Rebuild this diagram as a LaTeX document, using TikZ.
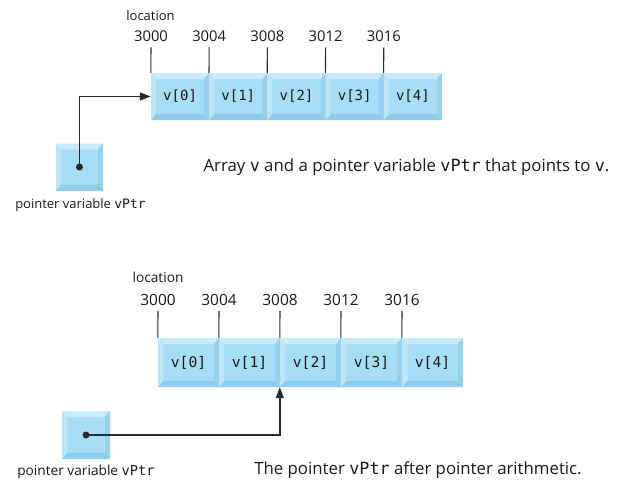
\documentclass[tikz,border=0pt]{standalone}
\usepackage{fontspec}
\setmainfont{Open Sans}
\setmonofont{DejaVu Sans Mono}
\usetikzlibrary{arrows.meta}
\definecolor{cface}{HTML}{A8DEF5}
\definecolor{ctop}{HTML}{C9ECFA}
\definecolor{cleft}{HTML}{BCE6F8}
\definecolor{cbot}{HTML}{8DCDEA}
\definecolor{cright}{HTML}{96D2ED}
\definecolor{cline}{HTML}{2A2A2A}
\newcommand{\fs}[1]{\fontsize{#1}{#1}\selectfont}
\tikzset{
  bev/.style={fill=cface, draw=none, inner sep=0pt, path picture={
    \coordinate (ppSW) at (path picture bounding box.south west);
    \coordinate (ppNE) at (path picture bounding box.north east);
    \coordinate (ppNW) at (path picture bounding box.north west);
    \coordinate (ppSE) at (path picture bounding box.south east);
    \fill[ctop] (ppNW) -- (ppNE) -- ([xshift=-5pt,yshift=-6pt]ppNE) -- ([xshift=5pt,yshift=-6pt]ppNW) -- cycle;
    \fill[cbot] (ppSW) -- (ppSE) -- ([xshift=-5pt,yshift=6pt]ppSE) -- ([xshift=5pt,yshift=6pt]ppSW) -- cycle;
    \fill[cleft] (ppNW) -- ([xshift=5pt,yshift=-6pt]ppNW) -- ([xshift=5pt,yshift=6pt]ppSW) -- (ppSW) -- cycle;
    \fill[cright] (ppNE) -- ([xshift=-5pt,yshift=-6pt]ppNE) -- ([xshift=-5pt,yshift=6pt]ppSE) -- (ppSE) -- cycle;
  }},
  celltop/.style={bev, minimum width=58.2pt, minimum height=47pt, font=\ttfamily\fs{14}, text=black!90},
  cellbot/.style={bev, minimum width=61pt, minimum height=49pt, font=\ttfamily\fs{14.7}, text=black!90},
  numtop/.style={inner sep=0pt, font=\fs{14.8}, text=black!90},
  numbot/.style={inner sep=0pt, font=\fs{15.4}, text=black!90},
  lbl/.style={inner sep=0pt, font=\fs{13}, text=black!90},
  lblb/.style={inner sep=0pt, font=\fs{13.7}, text=black!90},
  captxt/.style={inner sep=0pt, font=\fs{16.8}, text=black!90},
  tickln/.style={draw=cline, line width=1.1pt},
  conn/.style={draw=cline, line width=1.4pt},
  tiparr/.style={-{Triangle[length=11pt,width=8pt]}},
  dotst/.style={circle, fill=cline, inner sep=0pt, minimum size=7pt},
}
\begin{document}
\begin{tikzpicture}[x=1pt,y=-1pt]
\useasboundingbox (0,0) rectangle (617,482);
% ---------- top panel ----------
\node[celltop] (a0) at (180.1,96.5) {v[0]};
\node[celltop] (a1) at (238.3,96.5) {v[1]};
\node[celltop] (a2) at (296.5,96.5) {v[2]};
\node[celltop] (a3) at (354.7,96.5) {v[3]};
\node[celltop] (a4) at (412.9,96.5) {v[4]};
\node[lbl] (loc1) at (150.5,16) {location};
\node[numtop] (n0) at (151,36.7) {3000};
\node[numtop] (n1) at (209.2,36.7) {3004};
\node[numtop] (n2) at (267.4,36.7) {3008};
\node[numtop] (n3) at (325.6,36.7) {3012};
\node[numtop] (n4) at (383.8,36.7) {3016};
\draw[tickln] (a0.north west) -- ([yshift=-5pt]n0.south);
\draw[tickln] (a1.north west) -- ([yshift=-5pt]n1.south);
\draw[tickln] (a2.north west) -- ([yshift=-5pt]n2.south);
\draw[tickln] (a3.north west) -- ([yshift=-5pt]n3.south);
\draw[tickln] (a4.north west) -- ([yshift=-5pt]n4.south);
\node[bev, minimum size=47pt] (p1) at (79.5,167) {};
\node[dotst] (d1) at (p1.center) {};
\draw[conn,tiparr] (d1.center) |- (a0.west);
\node[lbl] (pl1) at (80.5,205) {pointer variable \texttt{vPtr}};
\node[captxt] (c1) at (406.5,167) {Array \texttt{v} and a pointer variable \texttt{vPtr} that points to \texttt{v}.};
% ---------- bottom panel ----------
\node[cellbot] (b0) at (188.5,362.5) {v[0]};
\node[cellbot] (b1) at (249.5,362.5) {v[1]};
\node[cellbot] (b2) at (310.5,362.5) {v[2]};
\node[cellbot] (b3) at (371.5,362.5) {v[3]};
\node[cellbot] (b4) at (432.5,362.5) {v[4]};
\node[lblb] (loc2) at (158,277) {location};
\node[numbot] (m0) at (158,300) {3000};
\node[numbot] (m1) at (219,300) {3004};
\node[numbot] (m2) at (280,300) {3008};
\node[numbot] (m3) at (341,300) {3012};
\node[numbot] (m4) at (402,300) {3016};
\draw[tickln] (b0.north west) -- ([yshift=-5pt]m0.south);
\draw[tickln] (b1.north west) -- ([yshift=-5pt]m1.south);
\draw[tickln] (b2.north west) -- ([yshift=-5pt]m2.south);
\draw[tickln] (b3.north west) -- ([yshift=-5pt]m3.south);
\draw[tickln] (b4.north west) -- ([yshift=-5pt]m4.south);
\node[bev, minimum size=48pt] (p2) at (86,435) {};
\node[dotst] (d2) at (p2.center) {};
\draw[conn,tiparr] (d2.center) -| (b2.south west);
\node[lblb] (pl2) at (86,472) {pointer variable \texttt{vPtr}};
\node[captxt] (c2) at (418,470) {The pointer \texttt{vPtr} after pointer arithmetic.};
\end{tikzpicture}
\end{document}
